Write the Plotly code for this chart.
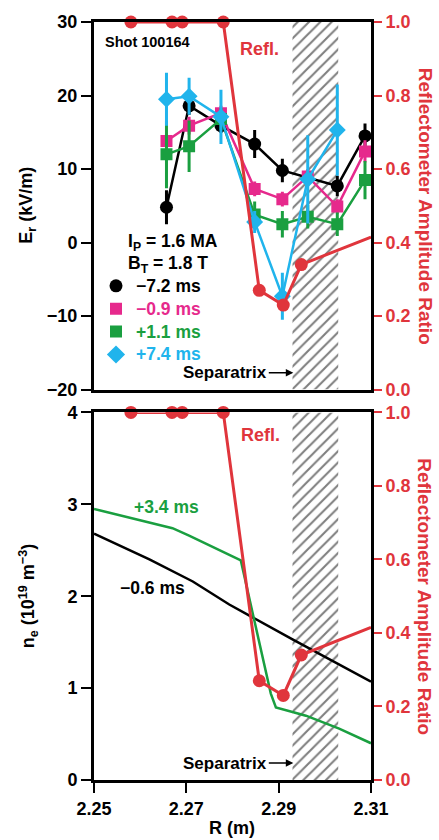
import plotly.graph_objects as go

# ---------------- data ----------------
# Er profiles, shot 100164 (R in m, Er in kV/m)
R_m72 = [2.2657, 2.2706, 2.2775, 2.2848, 2.2908, 2.3027, 2.3087]
Er_m72 = [4.8, 18.6, 15.9, 13.4, 9.8, 7.7, 14.5]
Er_m72_err = [2.3, 1.2, 1.0, 1.9, 1.6, 1.4, 1.7]

R_m09 = [2.2657, 2.2706, 2.2775, 2.2848, 2.2908, 2.2963, 2.3027, 2.3087]
Er_m09 = [13.8, 15.9, 17.6, 7.3, 5.9, 9.0, 4.9, 12.4]
Er_m09_err = [1.0, 1.2, 1.0, 1.0, 1.0, 1.0, 1.0, 1.5]

R_p11 = [2.2657, 2.2706, 2.2775, 2.2848, 2.2908, 2.2963, 2.3027, 2.3087]
Er_p11 = [12.0, 13.1, 16.8, 3.8, 2.5, 3.5, 2.5, 8.5]
Er_p11_err = [4.6, 3.5, 1.5, 1.8, 1.8, 1.6, 1.6, 2.6]

R_p74 = [2.2657, 2.2706, 2.2775, 2.2848, 2.2908, 2.2963, 2.3027]
Er_p74 = [19.5, 19.9, 17.1, 2.8, -7.3, 8.6, 15.3]
Er_p74_err = [3.6, 2.5, 3.7, 1.5, 3.2, 6.0, 6.2]

# Reflectometer amplitude ratio
refl_R = [2.2580, 2.2669, 2.2691, 2.2780, 2.2858, 2.2910, 2.2949]
refl_ratio = [1.0, 1.0, 1.0, 1.0, 0.27, 0.23, 0.34]
refl_edge_R = [2.3100]
refl_edge_ratio = [0.415]

# Density profiles (1e19 m^-3)
ne_R_m06 = [2.250, 2.262, 2.2714, 2.2793, 2.293, 2.310]
ne_m06 = [2.68, 2.40, 2.16, 1.91, 1.53, 1.07]
ne_R_p34 = [2.250, 2.267, 2.2706, 2.2818, 2.2883, 2.2894, 2.293, 2.2959, 2.3031, 2.310]
ne_p34 = [2.95, 2.74, 2.66, 2.39, 0.94, 0.79, 0.74, 0.70, 0.56, 0.40]

# Separatrix band
sep_band = [2.2930, 2.3029]

# Axes
x_range = [2.25, 2.31]
x_ticks = [2.25, 2.27, 2.29, 2.31]
er_range = [-20, 30]
er_ticks = [-20, -10, 0, 10, 20, 30]
ne_range = [0, 4]
ne_ticks = [0, 1, 2, 3, 4]
ratio_range = [0, 1]
ratio_ticks = [0.0, 0.2, 0.4, 0.6, 0.8, 1.0]

# ---------------- style ----------------
FONT = "Liberation Sans, Arial, Helvetica, sans-serif"
BLACK = "#000000"
MAGENTA = "#e6298c"
GREEN = "#1a9f40"
CYAN = "#20b4ec"
RED = "#e0353c"

W, H = 439, 840
ML, MR, MT, MB = 94, 68, 17, 60
PW, PH = W - ML - MR, H - MT - MB


def px(xp):
    return (xp - ML) / PW


def py(yp):
    return (H - MB - yp) / PH


top_dom = [py(387), 1.0]
bot_dom = [0.0, py(410)]

fig = go.Figure()

# hatched separatrix band
for xa, ya, rng in [("x", "y", er_range), ("x2", "y3", ne_range)]:
    fig.add_trace(go.Scatter(
        x=[sep_band[0], sep_band[1], sep_band[1], sep_band[0], sep_band[0]],
        y=[rng[0], rng[0], rng[1], rng[1], rng[0]],
        xaxis=xa, yaxis=ya, mode="lines", line=dict(width=0, color="rgba(0,0,0,0)"),
        fill="toself", fillcolor="rgba(0,0,0,0)",
        fillpattern=dict(shape="/", fgcolor="black", bgcolor="white", size=8, solidity=0.26),
        showlegend=False, hoverinfo="skip"))


def er_trace(R, E, err, color, symbol, size):
    return go.Scatter(
        x=R, y=E, xaxis="x", yaxis="y", mode="lines+markers",
        error_y=dict(type="data", array=err, color=color, thickness=3, width=0),
        line=dict(color=color, width=2.5),
        marker=dict(color=color, symbol=symbol, size=size),
        showlegend=False)


fig.add_trace(er_trace(R_m72, Er_m72, Er_m72_err, BLACK, "circle", 13))
fig.add_trace(er_trace(R_m09, Er_m09, Er_m09_err, MAGENTA, "square", 12))
fig.add_trace(er_trace(R_p11, Er_p11, Er_p11_err, GREEN, "square", 12))
fig.add_trace(er_trace(R_p74, Er_p74, Er_p74_err, CYAN, "diamond", 13))

# legend-only entries
for label, color, symbol, size in [("\u22127.2 ms", BLACK, "circle", 13),
                                   ("\u22120.9 ms", MAGENTA, "square", 12),
                                   ("+1.1 ms", GREEN, "square", 12),
                                   ("+7.4 ms", CYAN, "diamond", 14)]:
    fig.add_trace(go.Scatter(
        x=[None], y=[None], xaxis="x", yaxis="y", mode="markers",
        marker=dict(color=color, symbol=symbol, size=size),
        name=f"<span style='color:{color};font-size:17.5px'>{label}</span>"))

# density profiles
fig.add_trace(go.Scatter(x=ne_R_m06, y=ne_m06, xaxis="x2", yaxis="y3", mode="lines",
                         line=dict(color=BLACK, width=2.5), showlegend=False))
fig.add_trace(go.Scatter(x=ne_R_p34, y=ne_p34, xaxis="x2", yaxis="y3", mode="lines",
                         line=dict(color=GREEN, width=2.5), showlegend=False))

# reflectometer (both panels)
for xa, ya in [("x", "y2"), ("x2", "y4")]:
    fig.add_trace(go.Scatter(x=refl_R + refl_edge_R, y=refl_ratio + refl_edge_ratio,
                             xaxis=xa, yaxis=ya, mode="lines",
                             line=dict(color=RED, width=3), cliponaxis=False,
                             showlegend=False))
    fig.add_trace(go.Scatter(x=refl_R, y=refl_ratio, xaxis=xa, yaxis=ya, mode="markers",
                             marker=dict(color=RED, size=13), cliponaxis=False,
                             showlegend=False))

tickf = dict(family=FONT, size=18, color=BLACK, weight="bold")
tickf_red = dict(family=FONT, size=18, color=RED, weight="bold")

common_x = dict(range=x_range, showgrid=False, zeroline=False, showline=True,
                linecolor=BLACK, linewidth=3, mirror=True)
left_y = dict(showgrid=False, zeroline=False, showline=True, linecolor=BLACK, linewidth=3,
              ticks="outside", ticklen=10, tickwidth=2, tickcolor=BLACK, tickfont=tickf)
right_y = dict(showgrid=False, zeroline=False, showline=True, linecolor=BLACK, linewidth=3,
               side="right", range=ratio_range, tickvals=ratio_ticks, tickformat=".1f",
               ticks="outside", ticklen=8, tickwidth=2, tickcolor=RED, tickfont=tickf_red)

fig.update_layout(
    width=W, height=H, margin=dict(l=ML, r=MR, t=MT, b=MB),
    paper_bgcolor="white", plot_bgcolor="white",
    xaxis=dict(domain=[0, 1], anchor="y", showticklabels=False, ticks="", **common_x),
    yaxis=dict(domain=top_dom, anchor="x", range=er_range, tickvals=er_ticks, **left_y),
    yaxis2=dict(overlaying="y", anchor="x", **right_y),
    xaxis2=dict(domain=[0, 1], anchor="y3", tickvals=x_ticks, tickformat=".2f",
                ticks="outside", ticklen=10, tickwidth=2, tickcolor=BLACK, tickfont=tickf,
                **common_x),
    yaxis3=dict(domain=bot_dom, anchor="x2", range=ne_range, tickvals=ne_ticks, **left_y),
    yaxis4=dict(overlaying="y3", anchor="x2", **right_y),
    legend=dict(x=px(96), y=py(266), xanchor="left", yanchor="top",
                bgcolor="rgba(0,0,0,0)", tracegroupgap=0, itemwidth=30,
                font=dict(family=FONT, size=15.3, color=BLACK, weight="bold")),
    showlegend=True,
)


def ann(text, xp, yp, size=17.5, color=BLACK, xanchor="center", angle=0):
    return dict(text=text, x=px(xp), y=py(yp), xref="paper", yref="paper",
                xanchor=xanchor, yanchor="middle", showarrow=False, textangle=angle,
                font=dict(family=FONT, size=size, color=color, weight="bold"))


annotations = [
    ann("Shot 100164", 103, 37, size=14.5, xanchor="left"),
    ann("Refl.", 259, 44, size=18, color=RED),
    ann("Refl.", 260, 433, size=18, color=RED),
    ann("I<sub>P</sub> = 1.6 MA", 126, 239, xanchor="left"),
    ann("B<sub>T</sub> = 1.8 T", 126, 261, xanchor="left"),
    ann("+3.4 ms", 166, 505, color=GREEN),
    ann("\u22120.6 ms", 152, 587),
    ann("E<sub>r</sub> (kV/m)", 28, 202, size=18, angle=-90),
    ann("n<sub>e</sub> (10<sup>19</sup> m<sup>\u22123</sup>)", 28, 595, size=18, angle=-90),
    ann("Reflectometer Amplitude Ratio", 425, 202, size=19, color=RED, angle=90),
    ann("Reflectometer Amplitude Ratio", 425, 595, size=19, color=RED, angle=90),
    ann("R (m)", 232, 828, size=18),
]

for yp in (370, 763):
    annotations.append(dict(
        text="Separatrix", x=px(293.3), y=py(yp), xref="paper", yref="paper",
        showarrow=True, ax=-68, ay=0, arrowhead=2, arrowsize=1, arrowwidth=1.5,
        arrowcolor=BLACK, standoff=0,
        font=dict(family=FONT, size=17, color=BLACK, weight="bold")))

fig.update_layout(annotations=annotations)

fig.write_html("out.html")
